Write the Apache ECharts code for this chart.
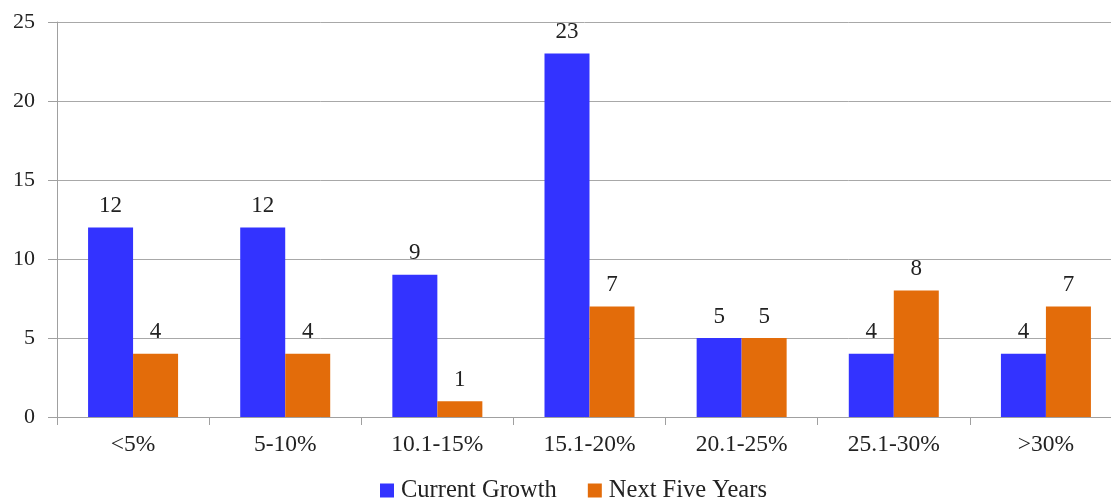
<!DOCTYPE html>
<html><head><meta charset="utf-8">
<script src="https://cdn.jsdelivr.net/npm/echarts@6/dist/echarts.min.js"></script>
<style>html,body{margin:0;padding:0;background:#fff}#c{width:1111px;height:498px}</style>
</head><body><div id="c"></div>
<script>
var categories = ['<5%', '5-10%', '10.1-15%', '15.1-20%', '20.1-25%', '25.1-30%', '>30%'];
var currentGrowth = [12, 12, 9, 23, 5, 4, 4];
var nextFiveYears = [4, 4, 1, 7, 5, 8, 7];
var seriesNames = ['Current Growth', 'Next Five Years'];

var font = '"Liberation Serif", "Times New Roman", serif';
var chart = echarts.init(document.getElementById('c'));
chart.setOption({
  animation: false,
  textStyle: { fontFamily: font },
  grid: { left: 57, top: 22, right: -11, bottom: 81, containLabel: false, outerBoundsMode: 'none' },
  legend: {
    top: 478, left: 380, padding: 0, itemWidth: 14, itemHeight: 14, itemGap: 31,
    icon: 'rect',
    textStyle: { fontFamily: font, fontSize: 24.5, color: '#222', padding: [0, 0, 0, 2] },
    data: seriesNames
  },
  xAxis: {
    type: 'category', data: categories,
    axisLine: { lineStyle: { color: '#a0a0a0', width: 1 } },
    axisTick: { show: true, length: 8, lineStyle: { color: '#a0a0a0' } },
    axisLabel: { fontFamily: font, fontSize: 23.5, color: '#222', margin: 16 }
  },
  yAxis: {
    type: 'value', min: 0, max: 25, interval: 5,
    axisLine: { show: true, lineStyle: { color: '#a0a0a0', width: 1 } },
    axisTick: { show: true, length: 9, lineStyle: { color: '#a0a0a0' } },
    splitLine: { lineStyle: { color: '#a8a8a8', width: 1 } },
    axisLabel: { fontFamily: font, fontSize: 22, color: '#222', margin: 22 }
  },
  series: [
    { name: seriesNames[0], type: 'bar', data: currentGrowth, barWidth: 45, barGap: '0%',
      itemStyle: { color: '#3333ff' },
      label: { show: true, position: 'top', distance: 10, fontFamily: font, fontSize: 23, color: '#222' } },
    { name: seriesNames[1], type: 'bar', data: nextFiveYears, barWidth: 45, barGap: '0%',
      itemStyle: { color: '#e36c0a' },
      label: { show: true, position: 'top', distance: 10, fontFamily: font, fontSize: 23, color: '#222' } }
  ]
});
</script></body></html>
